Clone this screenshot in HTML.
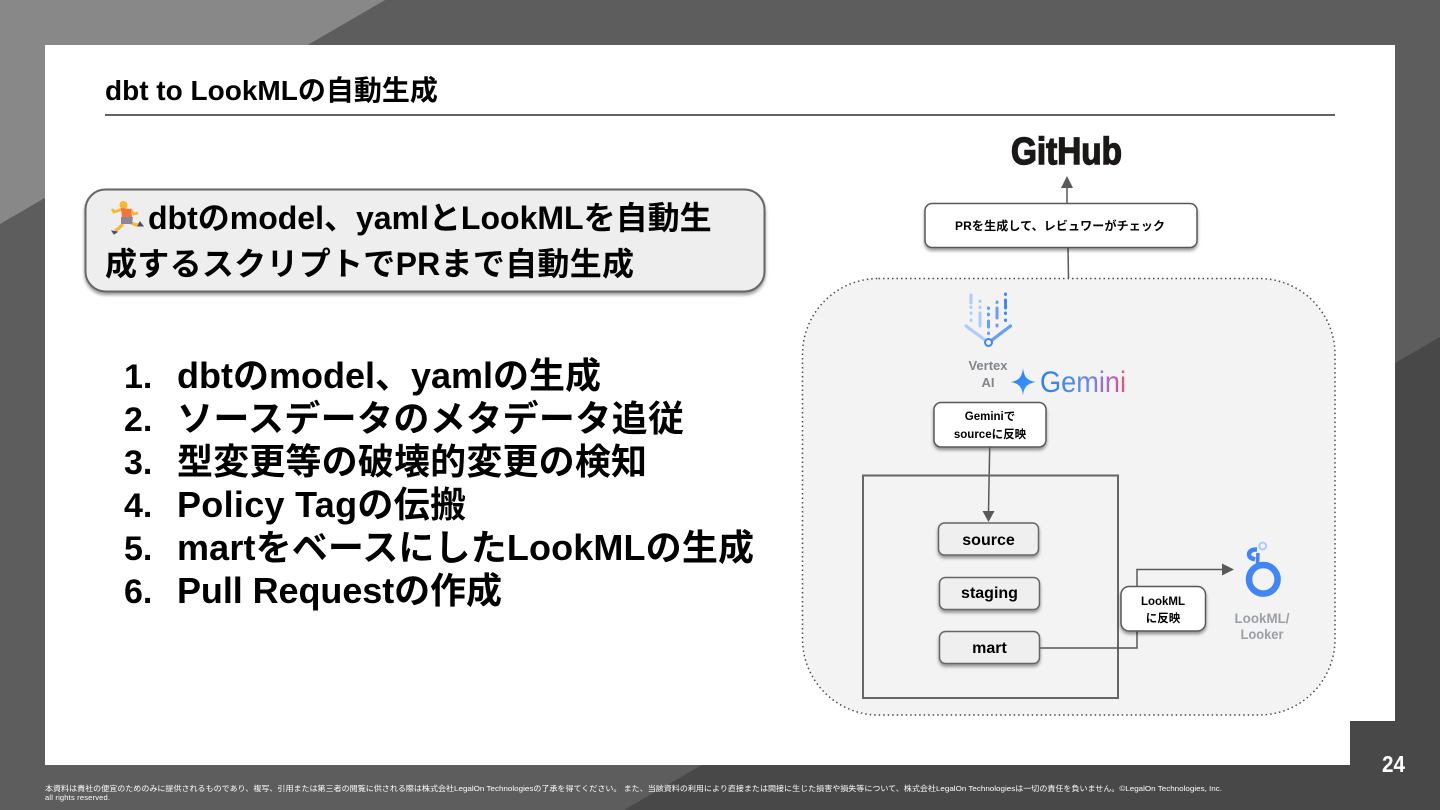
<!DOCTYPE html>
<html lang="ja">
<head>
<meta charset="utf-8">
<title>dbt to LookML</title>
<style>
html,body{margin:0;padding:0;width:1440px;height:810px;overflow:hidden;background:#5d5d5d}
svg{display:block;position:absolute;left:0;top:0}
text{font-family:"Liberation Sans","Noto Sans CJK JP",sans-serif}
.b{font-weight:700}
</style>
</head>
<body>
<svg width="1440" height="810" viewBox="0 0 1440 810" xmlns="http://www.w3.org/2000/svg">
<defs>
<filter id="sh" x="-20%" y="-20%" width="140%" height="150%"><feDropShadow dx="0" dy="2.5" stdDeviation="1.6" flood-color="#000" flood-opacity=".4"/></filter>
<linearGradient id="gem" x1="0" x2="1" y1="0" y2="0"><stop offset="0" stop-color="#2a7ff0"/><stop offset=".5" stop-color="#5c8ee8"/><stop offset=".8" stop-color="#a86cc0"/><stop offset="1" stop-color="#d9567e"/></linearGradient>
<linearGradient id="spark" x1="0" x2="1" y1="0" y2="1"><stop offset="0" stop-color="#1f7cf5"/><stop offset="1" stop-color="#4a9bf8"/></linearGradient>
</defs>

<!-- background -->
<rect width="1440" height="810" fill="#5d5d5d"/>
<polygon points="0,0 385,0 0,224" fill="#888888"/>
<polygon points="1440,337 1440,810 624,810" fill="#484848"/>

<!-- slide -->
<rect x="45" y="45" width="1350" height="720" fill="#fff"/>
<rect x="1350" y="721" width="46" height="45" fill="#484848"/>

<!-- title -->
<text class="b" x="105" y="100" font-size="28" fill="#000">dbt to LookMLの自動生成</text>
<rect x="105" y="114" width="1230" height="2" fill="#5f6368"/>

<!-- callout -->
<rect x="85.500" y="189.500" width="679" height="102" rx="20" fill="#eeeeee" stroke="#666" stroke-width="2" filter="url(#sh)"/>
<g>
<path d="M123 209 L114 212 L112 209 M130 209 L134 214 L138 213" stroke="#f7b733" stroke-width="2.800" fill="none"/>
<path d="M123 224 L119 228 L115 231 M129 222 L136 225 L140 224" stroke="#f7b733" stroke-width="3.200" fill="none"/>
<circle cx="123.500" cy="205" r="4" fill="#f7b733"/>
<path d="M121 208 L131 209 L132 217 L122 218 Z" fill="#f4743b"/>
<path d="M121 217 L133 217 L132 224 L121 224 Z" fill="#8b8794"/>
<path d="M112 231 L117 232 L114 234 Z M140 222 L143 226 L138 226 Z" fill="#4a4a78" stroke="#4a4a78"/>
</g>
<text class="b" x="148" y="229" font-size="32" fill="#000">dbtのmodel、yamlとLookMLを自動生</text>
<text class="b" x="105" y="275" font-size="32" fill="#000" textLength="529">成するスクリプトでPRまで自動生成</text>

<!-- list -->
<g class="b" fill="#000">
<text x="124" y="388" font-size="34">1.</text><text class="b" x="177" y="388" font-size="36">dbtのmodel、yamlの生成</text>
<text x="124" y="431" font-size="34">2.</text><text class="b" x="177" y="431" font-size="36" textLength="507">ソースデータのメタデータ追従</text>
<text x="124" y="474" font-size="34">3.</text><text class="b" x="177" y="474" font-size="36" textLength="470">型変更等の破壊的変更の検知</text>
<text x="124" y="517" font-size="34">4.</text><text class="b" x="177" y="517" font-size="36" textLength="289">Policy Tagの伝搬</text>
<text x="124" y="560" font-size="34">5.</text><text class="b" x="177" y="560" font-size="36" textLength="577">martをベースにしたLookMLの生成</text>
<text x="124" y="603" font-size="34">6.</text><text class="b" x="177" y="603" font-size="36" textLength="325">Pull Requestの作成</text>
</g>

<!-- container -->
<rect x="802.500" y="278.500" width="532.500" height="436.500" rx="76" fill="#f3f3f3" stroke="#4a4a4a" stroke-width="1.500" stroke-dasharray="1.500 3"/>

<!-- GitHub -->
<text class="b" x="1011" y="164" font-size="38" fill="#1b1817" stroke="#1b1817" stroke-width="1.400" textLength="111" lengthAdjust="spacingAndGlyphs">GitHub</text>

<!-- top connector -->
<line x1="1068.500" y1="278" x2="1068" y2="247" stroke="#595959" stroke-width="1.500"/>
<line x1="1067" y1="204" x2="1067" y2="186" stroke="#595959" stroke-width="1.500"/>
<polygon points="1067,176 1061,188 1073,188" fill="#595959"/>

<rect x="925" y="203.500" width="272" height="44" rx="7" fill="#fff" stroke="#595959" stroke-width="1.500" filter="url(#sh)"/>
<text class="b" x="955" y="230" font-size="12" fill="#000" textLength="210">PRを生成して、レビュワーがチェック</text>

<!-- Vertex icon -->
<g fill="none" stroke-linecap="round">
<path d="M971 295 V303 M971 307 V307.500 M971 313 V313.500 M971 320 V320.500" stroke="#aecbfa" stroke-width="3"/>
<path d="M980 301 V301.500 M980 307 V307.500 M980 313 V326" stroke="#aecbfa" stroke-width="3"/>
<path d="M988.500 308 V308.500 M988.500 314 V315 M988.500 321 V327 M988.500 333 V333.500" stroke="#669df6" stroke-width="3"/>
<path d="M997 302 V302.500 M997 308 V318 M997 325 V326" stroke="#669df6" stroke-width="3"/>
<path d="M1005.500 294 V294.500 M1005.500 300 V308 M1005.500 313 V313.500 M1005.500 320 V320.500" stroke="#4285f4" stroke-width="3"/>
<path d="M966 326 L985 340" stroke="#aecbfa" stroke-width="3.200"/>
<path d="M1010.500 326 L992 340" stroke="#669df6" stroke-width="3.200"/>
<circle cx="988.500" cy="342.500" r="3.500" stroke="#4285f4" stroke-width="2" fill="#f3f3f3"/>
</g>
<text class="b" text-anchor="middle" x="988" y="370" font-size="13" fill="#80868b">Vertex</text>
<text class="b" text-anchor="middle" x="988" y="387" font-size="13" fill="#80868b">AI</text>

<!-- Gemini -->
<path d="M1023 368 C1024 377 1027 380.500 1036 382 C1027 383.500 1024 387 1023 395.500 C1022 387 1019 383.500 1011 382 C1019 380.500 1022 377 1023 368 Z" fill="url(#spark)"/>
<text x="1040" y="392" font-size="30" fill="url(#gem)" textLength="86" lengthAdjust="spacingAndGlyphs">Gemini</text>

<!-- Gemini box -->
<rect x="934" y="402.500" width="112" height="44.500" rx="7" fill="#fff" stroke="#595959" stroke-width="1.500" filter="url(#sh)"/>
<text class="b" text-anchor="middle" x="990" y="420" font-size="11.500" fill="#000">Geminiで</text>
<text class="b" text-anchor="middle" x="990" y="438" font-size="11.500" fill="#000">sourceに反映</text>
<line x1="989.700" y1="447" x2="988.500" y2="512" stroke="#595959" stroke-width="1.500"/>
<polygon points="988.500,522 982.500,511 994.500,511" fill="#595959"/>

<!-- dbt box -->
<rect x="863" y="475.500" width="255" height="222.500" fill="none" stroke="#666" stroke-width="2"/>

<rect x="938.500" y="523" width="100" height="32" rx="6" fill="#efefef" stroke="#666" stroke-width="1.500" filter="url(#sh)"/>
<text class="b" text-anchor="middle" x="988.500" y="545" font-size="16" fill="#000">source</text>
<rect x="939.500" y="577.500" width="100" height="32" rx="6" fill="#efefef" stroke="#666" stroke-width="1.500" filter="url(#sh)"/>
<text class="b" text-anchor="middle" x="989.500" y="598" font-size="16" fill="#000">staging</text>
<rect x="939.500" y="631.500" width="100" height="32" rx="6" fill="#efefef" stroke="#666" stroke-width="1.500" filter="url(#sh)"/>
<text class="b" text-anchor="middle" x="989.500" y="653" font-size="16" fill="#000">mart</text>

<!-- connector -->
<polyline points="1040,648 1137,648 1137,569.500 1224,569.500" fill="none" stroke="#595959" stroke-width="1.500"/>
<polygon points="1234,569.500 1222,563.500 1222,575.500" fill="#595959"/>

<rect x="1121" y="586.500" width="84.500" height="44.500" rx="8" fill="#fff" stroke="#595959" stroke-width="1.500" filter="url(#sh)"/>
<text class="b" text-anchor="middle" x="1163" y="605" font-size="11.500" fill="#000">LookML</text>
<text class="b" text-anchor="middle" x="1163" y="622" font-size="11.500" fill="#000">に反映</text>

<!-- Looker icon -->
<circle cx="1263.300" cy="579.300" r="14.300" fill="none" stroke="#4285f4" stroke-width="6.500"/>
<path d="M1257 549.500 C1249 549 1247 555 1251 558 L1255 559.500" fill="none" stroke="#4285f4" stroke-width="4.500"/>
<path d="M1258 553 L1257.500 563" stroke="#4285f4" stroke-width="3.500"/>
<circle cx="1262.700" cy="546" r="3.500" fill="none" stroke="#aecbfa" stroke-width="2"/>
<text class="b" text-anchor="middle" x="1262" y="623" font-size="13.500" fill="#9aa0a6" textLength="55" lengthAdjust="spacingAndGlyphs">LookML/</text>
<text class="b" text-anchor="middle" x="1262" y="639" font-size="13.500" fill="#9aa0a6" textLength="43" lengthAdjust="spacingAndGlyphs">Looker</text>

<!-- footer -->
<text x="45" y="791" font-size="7.500" fill="#fff" textLength="1177" lengthAdjust="spacingAndGlyphs">本資料は貴社の便宜のためのみに提供されるものであり、複写、引用または第三者の閲覧に供される際は株式会社LegalOn Technologiesの了承を得てください。 また、当該資料の利用により直接または間接に生じた損害や損失等について、株式会社LegalOn Technologiesは一切の責任を負いません。©LegalOn Technologies, Inc.</text>
<text x="45" y="800" font-size="7.500" fill="#fff" textLength="65">all rights reserved.</text>

<text class="b" x="1382" y="772" font-size="23" fill="#fff" textLength="23" lengthAdjust="spacingAndGlyphs">24</text>
</svg>
</body>
</html>
